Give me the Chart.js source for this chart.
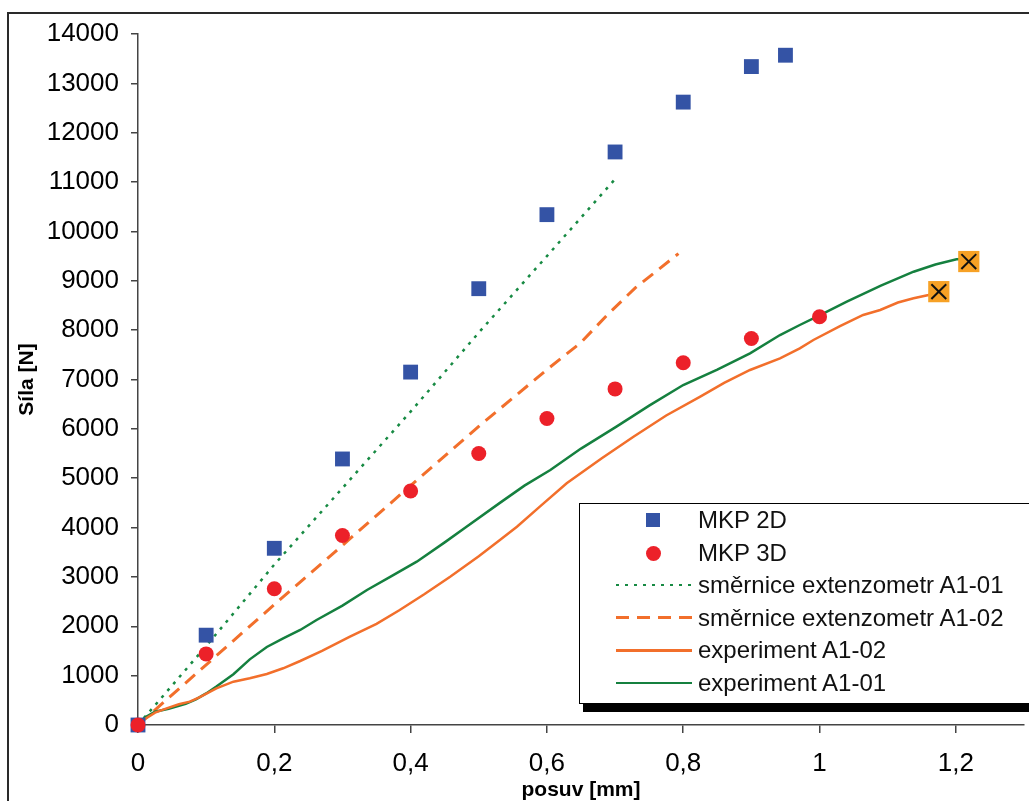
<!DOCTYPE html>
<html>
<head>
<meta charset="utf-8">
<script src="https://cdn.jsdelivr.net/npm/chart.js@4.4.0/dist/chart.umd.min.js"></script>
<style>
  html, body { margin: 0; padding: 0; background: #fff; overflow: hidden; }
  #wrap { position: relative; width: 1029px; height: 801px; }
  #legend {
    position: absolute; left: 579px; top: 503px; width: 470px; height: 199px;
    border: 1.5px solid #000; background: #fff; box-shadow: 4px 8px 0 #000;
    font-family: "Liberation Sans", Arial, sans-serif; font-size: 24px; color: #111;
  }
  .row { position: absolute; left: 0; width: 100%; height: 32px; }
  .row .txt { position: absolute; left: 118px; top: 0; line-height: 32px; white-space: nowrap; }
  .row .mk { position: absolute; }
</style>
</head>
<body>
<div id="wrap">
  <canvas id="chart" width="1029" height="801"></canvas>
  <div id="legend"></div>
</div>
<script>
// MKP 2D (modré čtverce)
const mkp2dX = [0, 0.1, 0.2, 0.3, 0.4, 0.5, 0.6, 0.7, 0.8, 0.9, 0.95];
const mkp2dY = [0, 1820, 3580, 5390, 7150, 8840, 10340, 11610, 12620, 13340, 13570];

// MKP 3D (červené body)
const mkp3dX = [0, 0.1, 0.2, 0.3, 0.4, 0.5, 0.6, 0.7, 0.8, 0.9, 1.0];
const mkp3dY = [0, 1440, 2760, 3840, 4740, 5500, 6210, 6810, 7340, 7830, 8270];

// směrnice extenzometr A1-01
const slope01X = [0, 0.1, 0.2, 0.3, 0.4, 0.5, 0.6, 0.7];
const slope01Y = [0, 1600, 3250, 4800, 6350, 7950, 9500, 11060];

// směrnice extenzometr A1-02
const slope02X = [0, 0.1, 0.2, 0.3, 0.4, 0.5, 0.6, 0.65, 0.69, 0.73, 0.793];
const slope02Y = [0, 1220, 2440, 3640, 4850, 6050, 7200, 7750, 8330, 8860, 9550];

// experiment A1-02
const exp02X = [0, 0.008, 0.025, 0.042, 0.06, 0.076, 0.09, 0.115, 0.14, 0.164, 0.189, 0.213, 0.238,
  0.27, 0.311, 0.35, 0.384, 0.42, 0.458, 0.5, 0.531, 0.556, 0.59, 0.629, 0.68, 0.727, 0.775,
  0.825, 0.86, 0.898, 0.942, 0.971, 0.991, 1.03, 1.064, 1.089, 1.115, 1.138, 1.16, 1.168];
const exp02Y = [0, 100, 250, 338, 420, 473, 560, 743, 878, 946, 1033, 1149, 1297,
  1500, 1789, 2050, 2330, 2650, 3005, 3420, 3748, 4018, 4430, 4897, 5400, 5841, 6270,
  6652, 6930, 7193, 7429, 7632, 7800, 8080, 8307, 8408, 8560, 8645, 8712, 8760];

// experiment A1-01
const exp01X = [0, 0.01, 0.025, 0.045, 0.07, 0.085, 0.1, 0.115, 0.14, 0.164, 0.189, 0.213, 0.238, 0.262,
  0.3, 0.336, 0.37, 0.409, 0.45, 0.482, 0.531, 0.567, 0.605, 0.65, 0.702, 0.75, 0.8, 0.85,
  0.898, 0.942, 0.971, 1.0, 1.04, 1.09, 1.138, 1.17, 1.201, 1.215];
const exp01Y = [0, 150, 270, 330, 430, 520, 640, 780, 1030, 1330, 1580, 1756, 1925, 2127,
  2420, 2735, 3000, 3309, 3700, 4018, 4500, 4850, 5166, 5600, 6044, 6470, 6888, 7200,
  7531, 7901, 8104, 8300, 8576, 8900, 9184, 9330, 9435, 9440];

// koncové body (porušení)
const endX = [1.219, 1.175];
const endY = [9390, 8780];

const FONT = '"Liberation Sans", Arial, sans-serif';
const toPts = (xs, ys) => xs.map((x, i) => ({ x: x, y: ys[i] }));
const comma = v => String(Math.round(v * 10) / 10).replace('.', ',');

const datasets = [
  { label: 'MKP 2D', data: toPts(mkp2dX, mkp2dY), pointStyle: 'rect', pointRadius: 10.5,
    backgroundColor: '#3453A5', borderWidth: 0, order: 1, clip: false, legend: 'rect' },
  { label: 'MKP 3D', data: toPts(mkp3dX, mkp3dY), pointStyle: 'circle', pointRadius: 7.5,
    backgroundColor: '#EC2129', borderWidth: 0, order: 0, clip: false, legend: 'circle' },
  { label: 'směrnice extenzometr A1-01', data: toPts(slope01X, slope01Y), showLine: true,
    borderColor: '#178A43', borderWidth: 2.5, borderDash: [3, 6], pointRadius: 0, order: 3, legend: 'line' },
  { label: 'směrnice extenzometr A1-02', data: toPts(slope02X, slope02Y), showLine: true,
    borderColor: '#F26F2B', borderWidth: 3, borderDash: [13, 8], pointRadius: 0, order: 3, legend: 'line' },
  { label: 'experiment A1-02', data: toPts(exp02X, exp02Y), showLine: true,
    borderColor: '#F26F2B', borderWidth: 2.5, pointRadius: 0, order: 2, legend: 'line' },
  { label: 'experiment A1-01', data: toPts(exp01X, exp01Y), showLine: true,
    borderColor: '#15803F', borderWidth: 2.5, pointRadius: 0, order: 2, legend: 'line' },
  { label: 'konec', data: toPts(endX, endY), pointStyle: 'rect', pointRadius: 15,
    backgroundColor: '#F7A125', borderWidth: 0, order: -1, clip: false },
  { label: 'konec x', data: toPts(endX, endY), pointStyle: 'crossRot', pointRadius: 10.5,
    borderColor: '#111', borderWidth: 2, order: -2, clip: false }
];

const framePlugin = {
  id: 'frame',
  beforeDraw(chart) {
    const c = chart.ctx;
    c.save();
    c.fillStyle = '#fff';
    c.fillRect(0, 0, chart.width, chart.height);
    c.strokeStyle = '#2a2a2a';
    c.lineWidth = 2;
    c.strokeRect(8, 13, 1100, 900);
    c.restore();
  }
};

new Chart(document.getElementById('chart'), {
  type: 'scatter',
  data: { datasets: datasets },
  options: {
    responsive: false,
    animation: false,
    events: [],
    layout: { autoPadding: false, padding: { top: 34, right: 5, left: 0, bottom: 0 } },
    plugins: { legend: { display: false }, tooltip: { enabled: false } },
    scales: {
      x: {
        type: 'linear', min: 0, max: 1.3,
        ticks: { stepSize: 0.2, includeBounds: false, callback: comma, color: '#000',
                 font: { family: FONT, size: 26 }, padding: 15, maxRotation: 0 },
        grid: { drawOnChartArea: false, drawTicks: true, tickLength: 8, color: '#444', lineWidth: 1.5 },
        border: { color: '#444', width: 1.5 },
        title: { display: true, text: 'posuv [mm]', color: '#000', padding: 0,
                 font: { family: FONT, size: 21, weight: 'bold', lineHeight: 1.05 } },
        afterFit(s) { s.height = 76; s.paddingLeft = 0; s.paddingRight = 0; }
      },
      y: {
        type: 'linear', min: 0, max: 14000,
        ticks: { stepSize: 1000, callback: v => String(v), color: '#000',
                 font: { family: FONT, size: 26 }, padding: 12 },
        grid: { drawOnChartArea: false, drawTicks: true, tickLength: 7, color: '#444', lineWidth: 1.5 },
        border: { color: '#444', width: 1.5 },
        title: { display: true, text: 'Síla [N]', color: '#000', padding: { top: 15, bottom: 0 },
                 font: { family: FONT, size: 21, weight: 'bold', lineHeight: 1.2 } },
        afterFit(s) { s.width = 138; s.paddingTop = 0; s.paddingBottom = 0; }
      }
    }
  },
  plugins: [framePlugin]
});

// legenda
const legend = document.getElementById('legend');
datasets.filter(d => d.legend).forEach((d, i) => {
  const row = document.createElement('div');
  row.className = 'row';
  row.style.top = (i * 32.6) + 'px';
  const mk = document.createElement('div');
  mk.className = 'mk';
  if (d.legend === 'rect') {
    Object.assign(mk.style, { left: '66px', top: '9px', width: '14px', height: '14px', background: d.backgroundColor });
  } else if (d.legend === 'circle') {
    Object.assign(mk.style, { left: '66px', top: '9px', width: '15px', height: '15px', borderRadius: '50%', background: d.backgroundColor });
  } else {
    const h = d.borderWidth;
    const bg = d.borderDash
      ? 'repeating-linear-gradient(to right, ' + d.borderColor + ' 0 ' + d.borderDash[0] + 'px, transparent ' +
        d.borderDash[0] + 'px ' + (d.borderDash[0] + d.borderDash[1]) + 'px)'
      : d.borderColor;
    Object.assign(mk.style, { left: '36px', top: (16 - h / 2) + 'px', width: '76px', height: h + 'px', background: bg });
  }
  const txt = document.createElement('div');
  txt.className = 'txt';
  txt.textContent = d.label;
  row.appendChild(mk);
  row.appendChild(txt);
  legend.appendChild(row);
});
</script>
</body>
</html>
